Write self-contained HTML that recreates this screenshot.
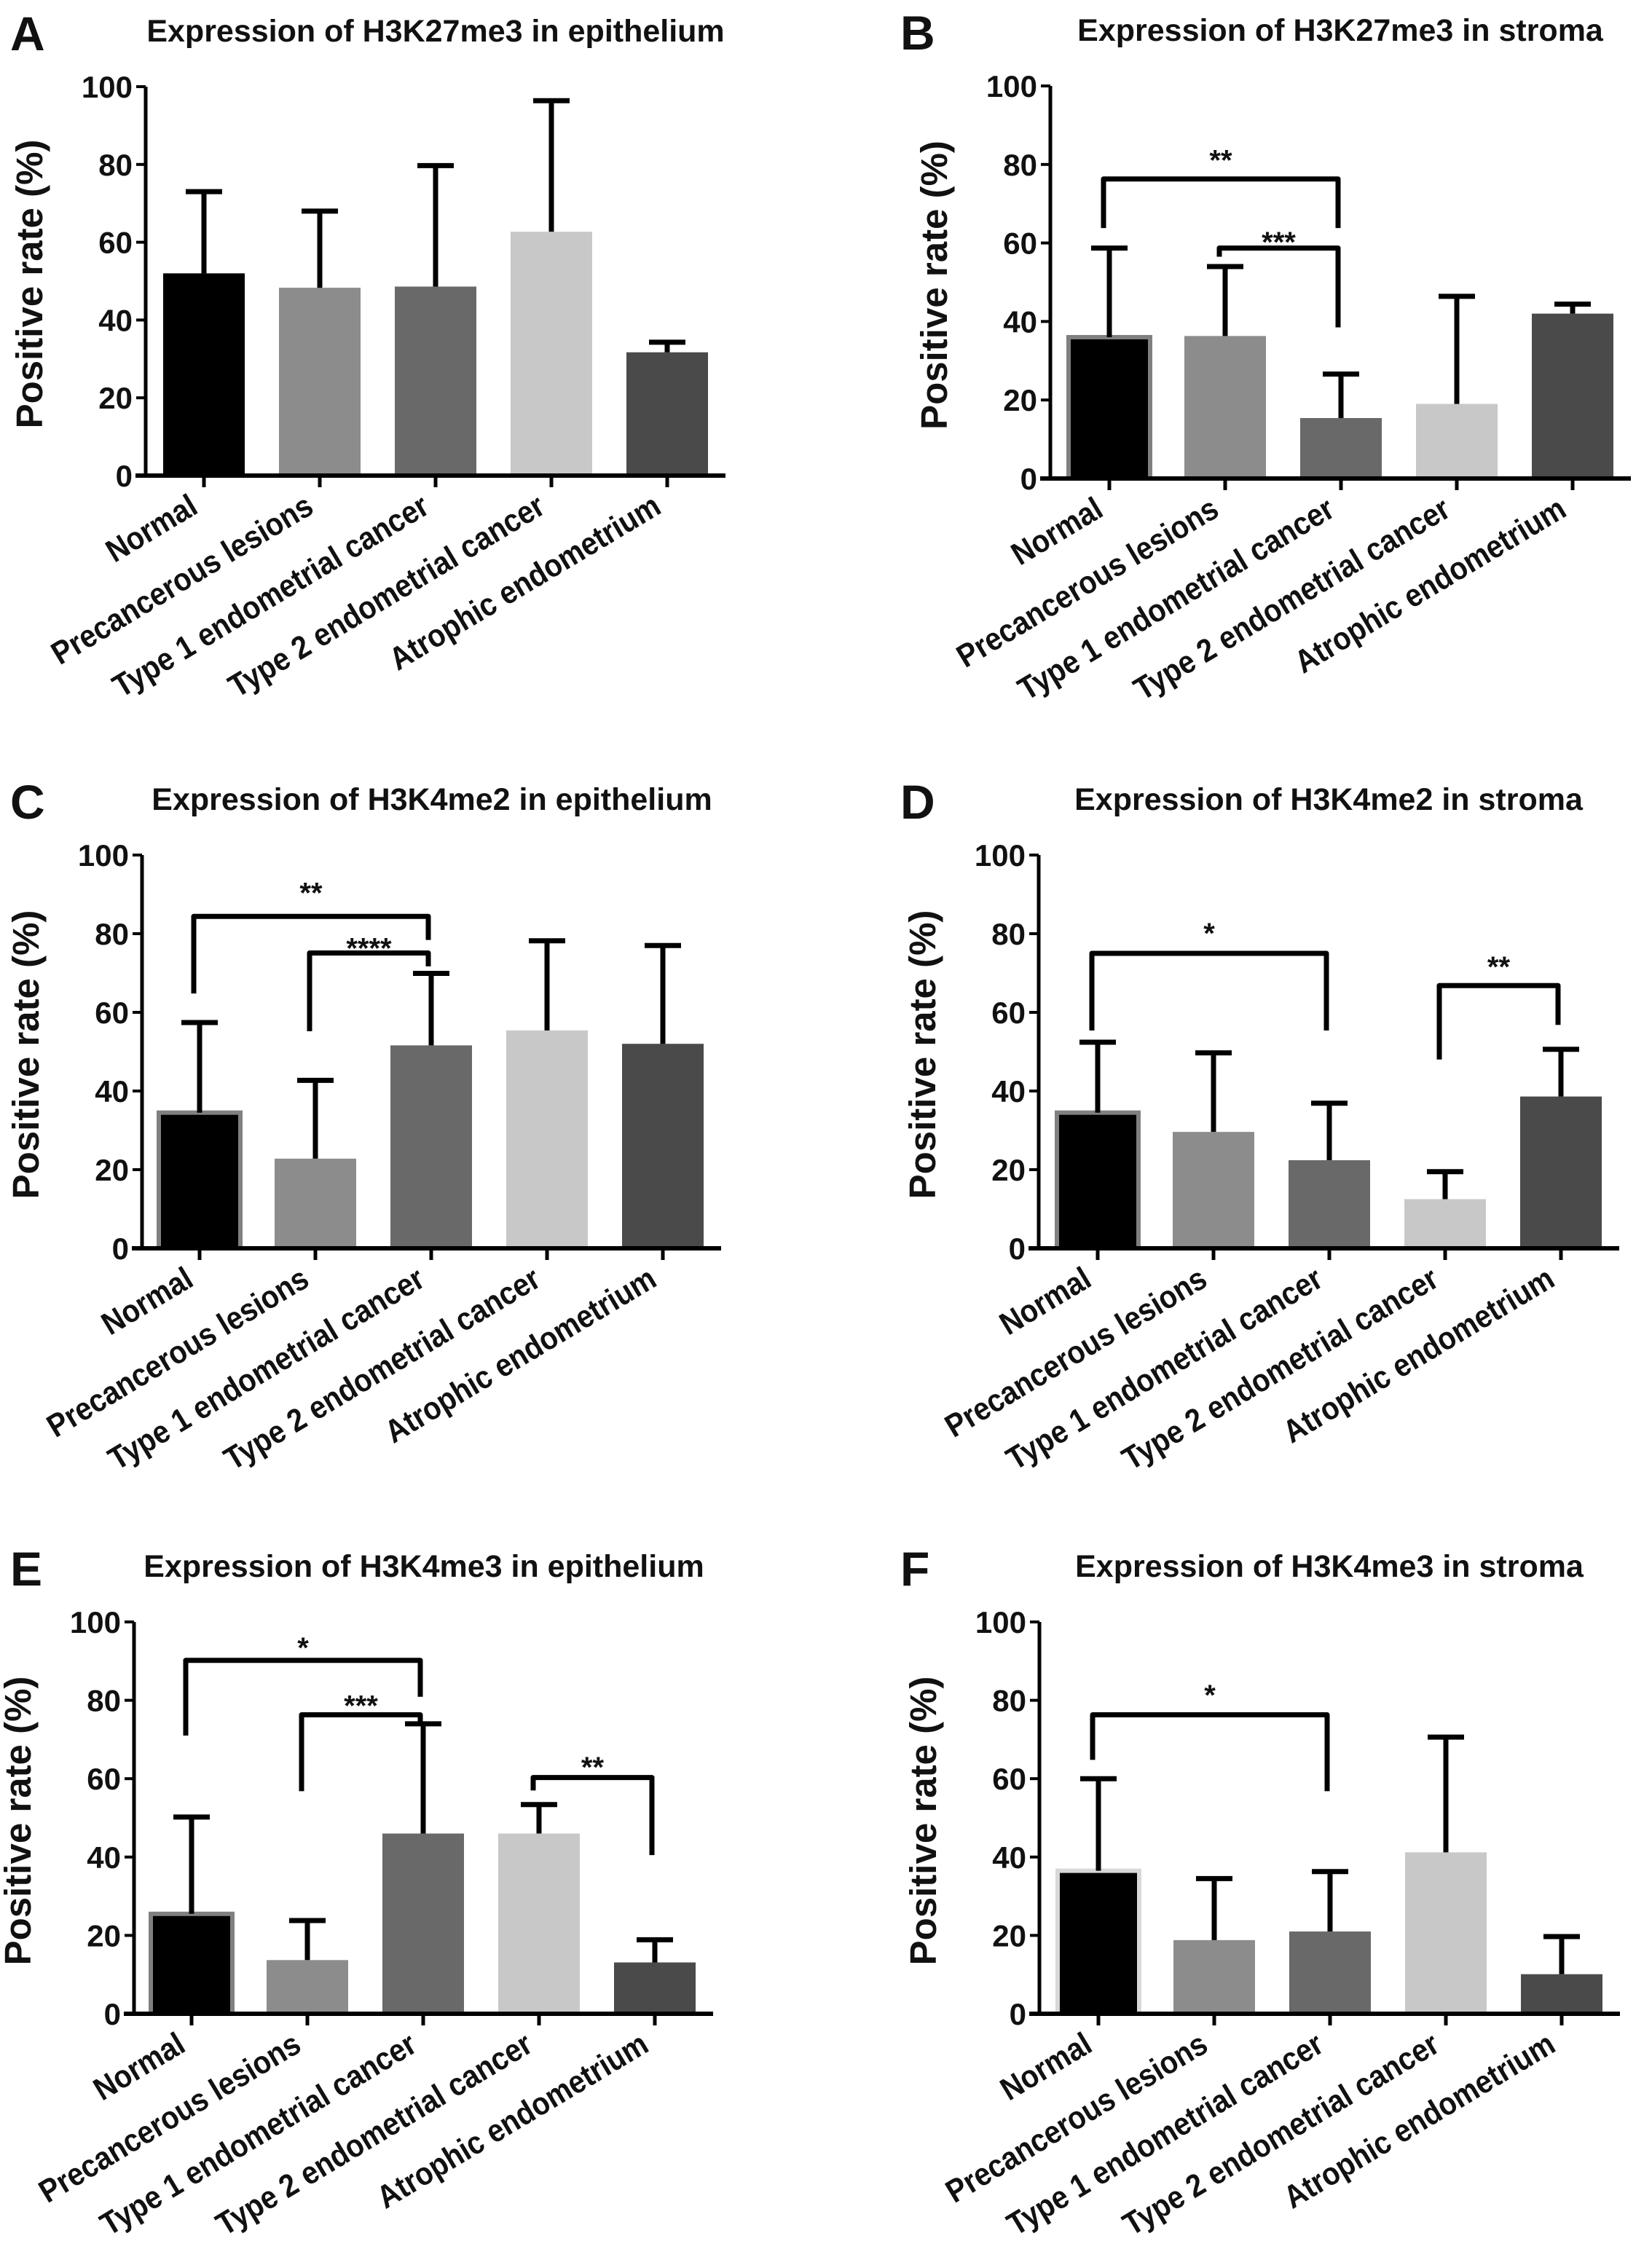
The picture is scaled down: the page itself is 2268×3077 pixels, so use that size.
<!DOCTYPE html>
<html><head><meta charset="utf-8"><style>
html,body{margin:0;padding:0;background:#fff;}
svg{display:block;}
text{font-family:"Liberation Sans",Arial,sans-serif;font-weight:bold;fill:#111;}
</style></head>
<body>
<svg id="fig" width="2268" height="3077" viewBox="0 0 2268 3077" xmlns="http://www.w3.org/2000/svg"></svg>
<script>
const categories=["Normal","Precancerous lesions","Type 1 endometrial cancer","Type 2 endometrial cancer","Atrophic endometrium"];
const yTicks=[0,20,40,60,80,100];
const panelLetters=["A","B","C","D","E","F"];
const panelTitles=["Expression of H3K27me3 in epithelium","Expression of H3K27me3 in stroma","Expression of H3K4me2 in epithelium","Expression of H3K4me2 in stroma","Expression of H3K4me3 in epithelium","Expression of H3K4me3 in stroma"];
const meanA=[52,48.3,48.6,62.7,31.7];
const errTopA=[73,68,79.7,96.4,34.3];
const meanB=[36,36.3,15.4,19,42];
const errTopB=[58.7,54,26.6,46.4,44.4];
const meanC=[34.5,22.8,51.6,55.4,52];
const errTopC=[57.4,42.7,69.9,78.2,77];
const meanD=[34.5,29.6,22.4,12.5,38.6];
const errTopD=[52.4,49.7,36.9,19.5,50.6];
const meanE=[25.5,13.7,46,46,13.1];
const errTopE=[50.2,23.8,74,53.4,18.9];
const meanF=[36.5,18.8,21,41.2,10.1];
const errTopF=[60,34.5,36.3,70.6,19.7];
// brackets: [fromIdx, toIdx, topValue, leftLegEnd, rightLegEnd, label, labelValue]
const bracketsA=[];
const bracketsB=[[0,2,76.3,63.8,63.8,"**",82.5],[1,2,58.7,56.5,38.5,"***",61.6]];
const bracketsC=[[0,2,84.4,64.8,78.4,"**",91.8],[1,2,75.1,55.2,71.7,"****",77.7]];
const bracketsD=[[0,2,75,55.4,55.4,"*",81.5],[3,4,66.8,48,56.8,"**",73]];
const bracketsE=[[0,2,90.2,71,80.9,"*",94.8],[1,2,76.3,56.8,74.6,"***",80],[3,4,60.3,57,40.5,"**",64.3]];
const bracketsF=[[0,2,76.3,64.8,56.8,"*",82.7]];

const means=[meanA,meanB,meanC,meanD,meanE,meanF];
const errs=[errTopA,errTopB,errTopC,errTopD,errTopE,errTopF];
const brackets=[bracketsA,bracketsB,bracketsC,bracketsD,bracketsE,bracketsF];

const layout=[
 {ax:200,x0:280,y0:653,y100:119},
 {ax:1442,x0:1523,y0:657,y100:118},
 {ax:195,x0:274,y0:1714,y100:1174},
 {ax:1426,x0:1507,y0:1714,y100:1174},
 {ax:184,x0:263,y0:2765,y100:2227},
 {ax:1427,x0:1508,y0:2765,y100:2227}
];
const colors=["#000000","#8c8c8c","#696969","#c8c8c8","#4a4a4a"];
const step=159, barW=112;
const NS="http://www.w3.org/2000/svg";
const svg=document.getElementById("fig");
function mk(tag,attrs,parent){const e=document.createElementNS(NS,tag);for(const k in attrs)e.setAttribute(k,attrs[k]);(parent||svg).appendChild(e);return e;}

layout.forEach((L,p)=>{
  const g=mk("g",{});
  
  
  const yS=v=>L.y0-(L.y0-L.y100)*v/100;
  const xS=i=>L.x0+i*step;
  const left=p%2===0;
  const lt=mk("text",{x:left?14:1236,y:L.y100-50,"font-size":66},g);
  lt.textContent=panelLetters[p];
  
  
  const tt=mk("text",{x:L.ax+398,y:L.y100-62,"font-size":43,"text-anchor":"middle",fill:"#222"},g);
  tt.textContent=panelTitles[p];
  
  
  const cy=(L.y0+L.y100)/2+4;
  const yt=mk("text",{x:0,y:0,"font-size":51,"text-anchor":"middle",transform:`translate(${L.ax-142},${cy}) rotate(-90)`},g);
  yt.textContent="Positive rate (%)";
  
  
  means[p].forEach((m,i)=>{
    const normalFrame=(i===0&&p>0);
    const r=mk("rect",{x:xS(i)-barW/2,y:yS(m),width:barW,height:L.y0-yS(m),fill:colors[i]},g);
    if(normalFrame){r.setAttribute("stroke",p===5?"#d8d8d8":"#808080");r.setAttribute("stroke-width",6);}
    
    
    const e=errs[p][i];
    const el=mk("path",{d:`M${xS(i)},${yS(m)} V${yS(e)} M${xS(i)-25},${yS(e)} H${xS(i)+25}`,stroke:"#000","stroke-width":7,fill:"none"},g);
    
    
  });
  const xEnd=xS(4)+80;
  const ya=mk("path",{d:`M${L.ax},${L.y0} V${L.y100}`,stroke:"#000","stroke-width":5,fill:"none"},g);
  
  
  const xa=mk("path",{d:`M${L.ax-14},${L.y0} H${xEnd}`,stroke:"#000","stroke-width":6,fill:"none"},g);
  
  
  yTicks.forEach(t=>{
    mk("path",{d:`M${L.ax-13},${yS(t)} H${L.ax}`,stroke:"#000","stroke-width":4},g);
    const tl=mk("text",{x:L.ax-18,y:yS(t)+15,"font-size":42,"text-anchor":"end"},g);
    tl.textContent=t;
    
    
  });
  categories.forEach((c,i)=>{
    mk("path",{d:`M${xS(i)},${L.y0} V${L.y0+16}`,stroke:"#000","stroke-width":5},g);
    const cl=mk("text",{x:0,y:0,"font-size":44,"text-anchor":"end",transform:`translate(${xS(i)-6},${L.y0+50}) rotate(-31) scale(0.9,1)`},g);
    cl.textContent=c;
    
    
  });
  brackets[p].forEach(b=>{
    const xl=xS(b[0])-8, xr=xS(b[1])-4;
    const bp=mk("path",{d:`M${xl},${yS(b[3])} V${yS(b[2])} H${xr} V${yS(b[4])}`,stroke:"#000","stroke-width":7,fill:"none","stroke-linejoin":"round"},g);
    
    
    const st=mk("text",{x:(xl+xr)/2,y:yS(b[6])+21,"font-size":40,"text-anchor":"middle"},g);
    st.textContent=b[5];
    
    
  });
});
</script>
</body></html>
